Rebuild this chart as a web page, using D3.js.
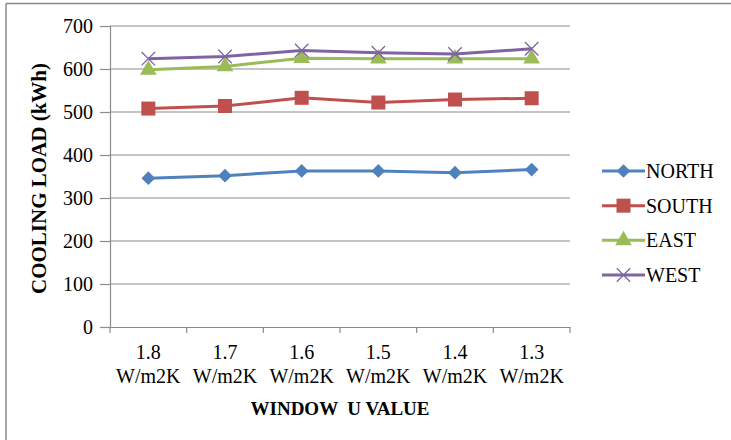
<!DOCTYPE html>
<html><head><meta charset="utf-8">
<script src="https://cdn.jsdelivr.net/npm/d3@7"></script>
<style>body{margin:0;background:#fff}svg{display:block}</style>
</head><body><svg id="c" width="731" height="440"></svg>
<script>
const categories = ["1.8", "1.7", "1.6", "1.5", "1.4", "1.3"];
const unitLabel = "W/m2K";
const seriesNames = ["NORTH", "SOUTH", "EAST", "WEST"];
const north = [346, 352, 363, 363, 359, 366];
const south = [508, 514, 533, 522, 529, 532];
const east = [598, 606, 625, 624, 624, 624];
const west = [624, 629, 643, 638, 635, 647];
const yTicks = [0, 100, 200, 300, 400, 500, 600, 700];
const yTitle = "COOLING LOAD (kWh)";
const xTitle = "WINDOW  U VALUE";

const seriesValues = [north, south, east, west];
const colors = ["#4F81BD", "#C0504D", "#9BBB59", "#8064A2"];
const markers = ["diamond", "square", "triangle", "x"];
const FONT = "'Liberation Serif', 'Times New Roman', 'DejaVu Serif', serif";

const svg = d3.select("#c");
svg.append("rect").attr("width", 731).attr("height", 440).attr("fill", "#fff");
svg.append("line").attr("x1", 6).attr("x2", 731).attr("y1", 3.5).attr("y2", 3.5).attr("stroke", "#8a8a8a").attr("stroke-width", 1.5);
svg.append("line").attr("x1", 6).attr("x2", 6).attr("y1", 3.5).attr("y2", 440).attr("stroke", "#8a8a8a").attr("stroke-width", 1.5);

const L = 110, R = 570, T = 26, B = 327;
const x = d3.scaleBand().domain(categories).range([L, R]);
const y = d3.scaleLinear().domain([0, 700]).range([B, T]);

svg.append("g").selectAll("line").data(yTicks.filter(d => d > 0)).join("line")
  .attr("x1", L).attr("x2", R).attr("y1", d => y(d)).attr("y2", d => y(d))
  .attr("stroke", "#8c8c8c").attr("stroke-width", 1.2);

const yAxis = svg.append("g").attr("transform", `translate(${L},0)`)
  .call(d3.axisLeft(y).tickValues(yTicks).tickSize(10).tickPadding(7));
yAxis.attr("font-family", null).attr("font-size", null);
yAxis.select(".domain").attr("stroke", "#8c8c8c").attr("stroke-width", 1.2);
yAxis.selectAll(".tick line").attr("stroke", "#8c8c8c").attr("stroke-width", 1.2);
yAxis.selectAll(".tick text").style("font-family", FONT).style("font-size", "20px").attr("fill", "#000").attr("dy", "0.34em");

const xAxis = svg.append("g").attr("transform", `translate(0,${B})`)
  .call(d3.axisBottom(x).tickSize(0).tickFormat(""));
xAxis.select(".domain").attr("stroke", "#8c8c8c").attr("stroke-width", 1.2);
const boundaries = categories.map(c => x(c)).concat([R]);
svg.append("g").selectAll("line").data(boundaries).join("line")
  .attr("x1", d => d).attr("x2", d => d).attr("y1", B).attr("y2", B + 6)
  .attr("stroke", "#8c8c8c").attr("stroke-width", 1.2);
const xl = svg.append("g").selectAll("text").data(categories).join("text")
  .attr("text-anchor", "middle").style("font-family", FONT).style("font-size", "20px");
xl.append("tspan").attr("x", d => x(d) + x.bandwidth() / 2).attr("y", B + 32).text(d => d);
xl.append("tspan").attr("x", d => x(d) + x.bandwidth() / 2).attr("y", B + 56).text(unitLabel);

svg.append("text").attr("x", (L + R) / 2).attr("y", B + 88).attr("text-anchor", "middle")
  .style("font-family", FONT).style("font-size", "19px").style("font-weight", "bold").style("white-space", "pre").text(xTitle);
svg.append("text").attr("transform", `translate(46,${(T + B) / 2 + 2}) rotate(-90)`)
  .attr("text-anchor", "middle").style("font-family", FONT).style("font-size", "21px").style("font-weight", "bold").text(yTitle);

function drawMarker(g, type, color, cx, cy) {
  if (type === "diamond") {
    g.append("path").attr("d", d3.symbol(d3.symbolDiamond2, 120)()).attr("transform", `translate(${cx},${cy})`).attr("fill", color);
  } else if (type === "square") {
    g.append("rect").attr("x", cx - 7).attr("y", cy - 7).attr("width", 14).attr("height", 14).attr("fill", color);
  } else if (type === "triangle") {
    g.append("path").attr("d", d3.symbol(d3.symbolTriangle, 120)()).attr("transform", `translate(${cx},${cy})`).attr("fill", color);
  } else {
    g.append("path").attr("d", d3.symbol(d3.symbolX, 120)()).attr("transform", `translate(${cx},${cy})`)
      .attr("fill", "none").attr("stroke", color).attr("stroke-width", 1.3);
  }
}

const line = d3.line().x((d, i) => x(categories[i]) + x.bandwidth() / 2).y(d => y(d));
seriesValues.forEach((vals, si) => {
  const g = svg.append("g");
  g.append("path").attr("d", line(vals)).attr("fill", "none").attr("stroke", colors[si]).attr("stroke-width", 3);
  vals.forEach((v, i) => drawMarker(g, markers[si], colors[si], x(categories[i]) + x.bandwidth() / 2, y(v)));
});

const legY = d3.scalePoint().domain(seriesNames).range([171, 275]);
seriesNames.forEach((n, si) => {
  const g = svg.append("g");
  const cy = legY(n);
  g.append("line").attr("x1", 602).attr("x2", 645).attr("y1", cy).attr("y2", cy).attr("stroke", colors[si]).attr("stroke-width", 3);
  drawMarker(g, markers[si], colors[si], 623.5, cy);
  g.append("text").attr("x", 646).attr("y", cy + 7).style("font-family", FONT).style("font-size", "20px").text(n);
});
</script></body></html>
